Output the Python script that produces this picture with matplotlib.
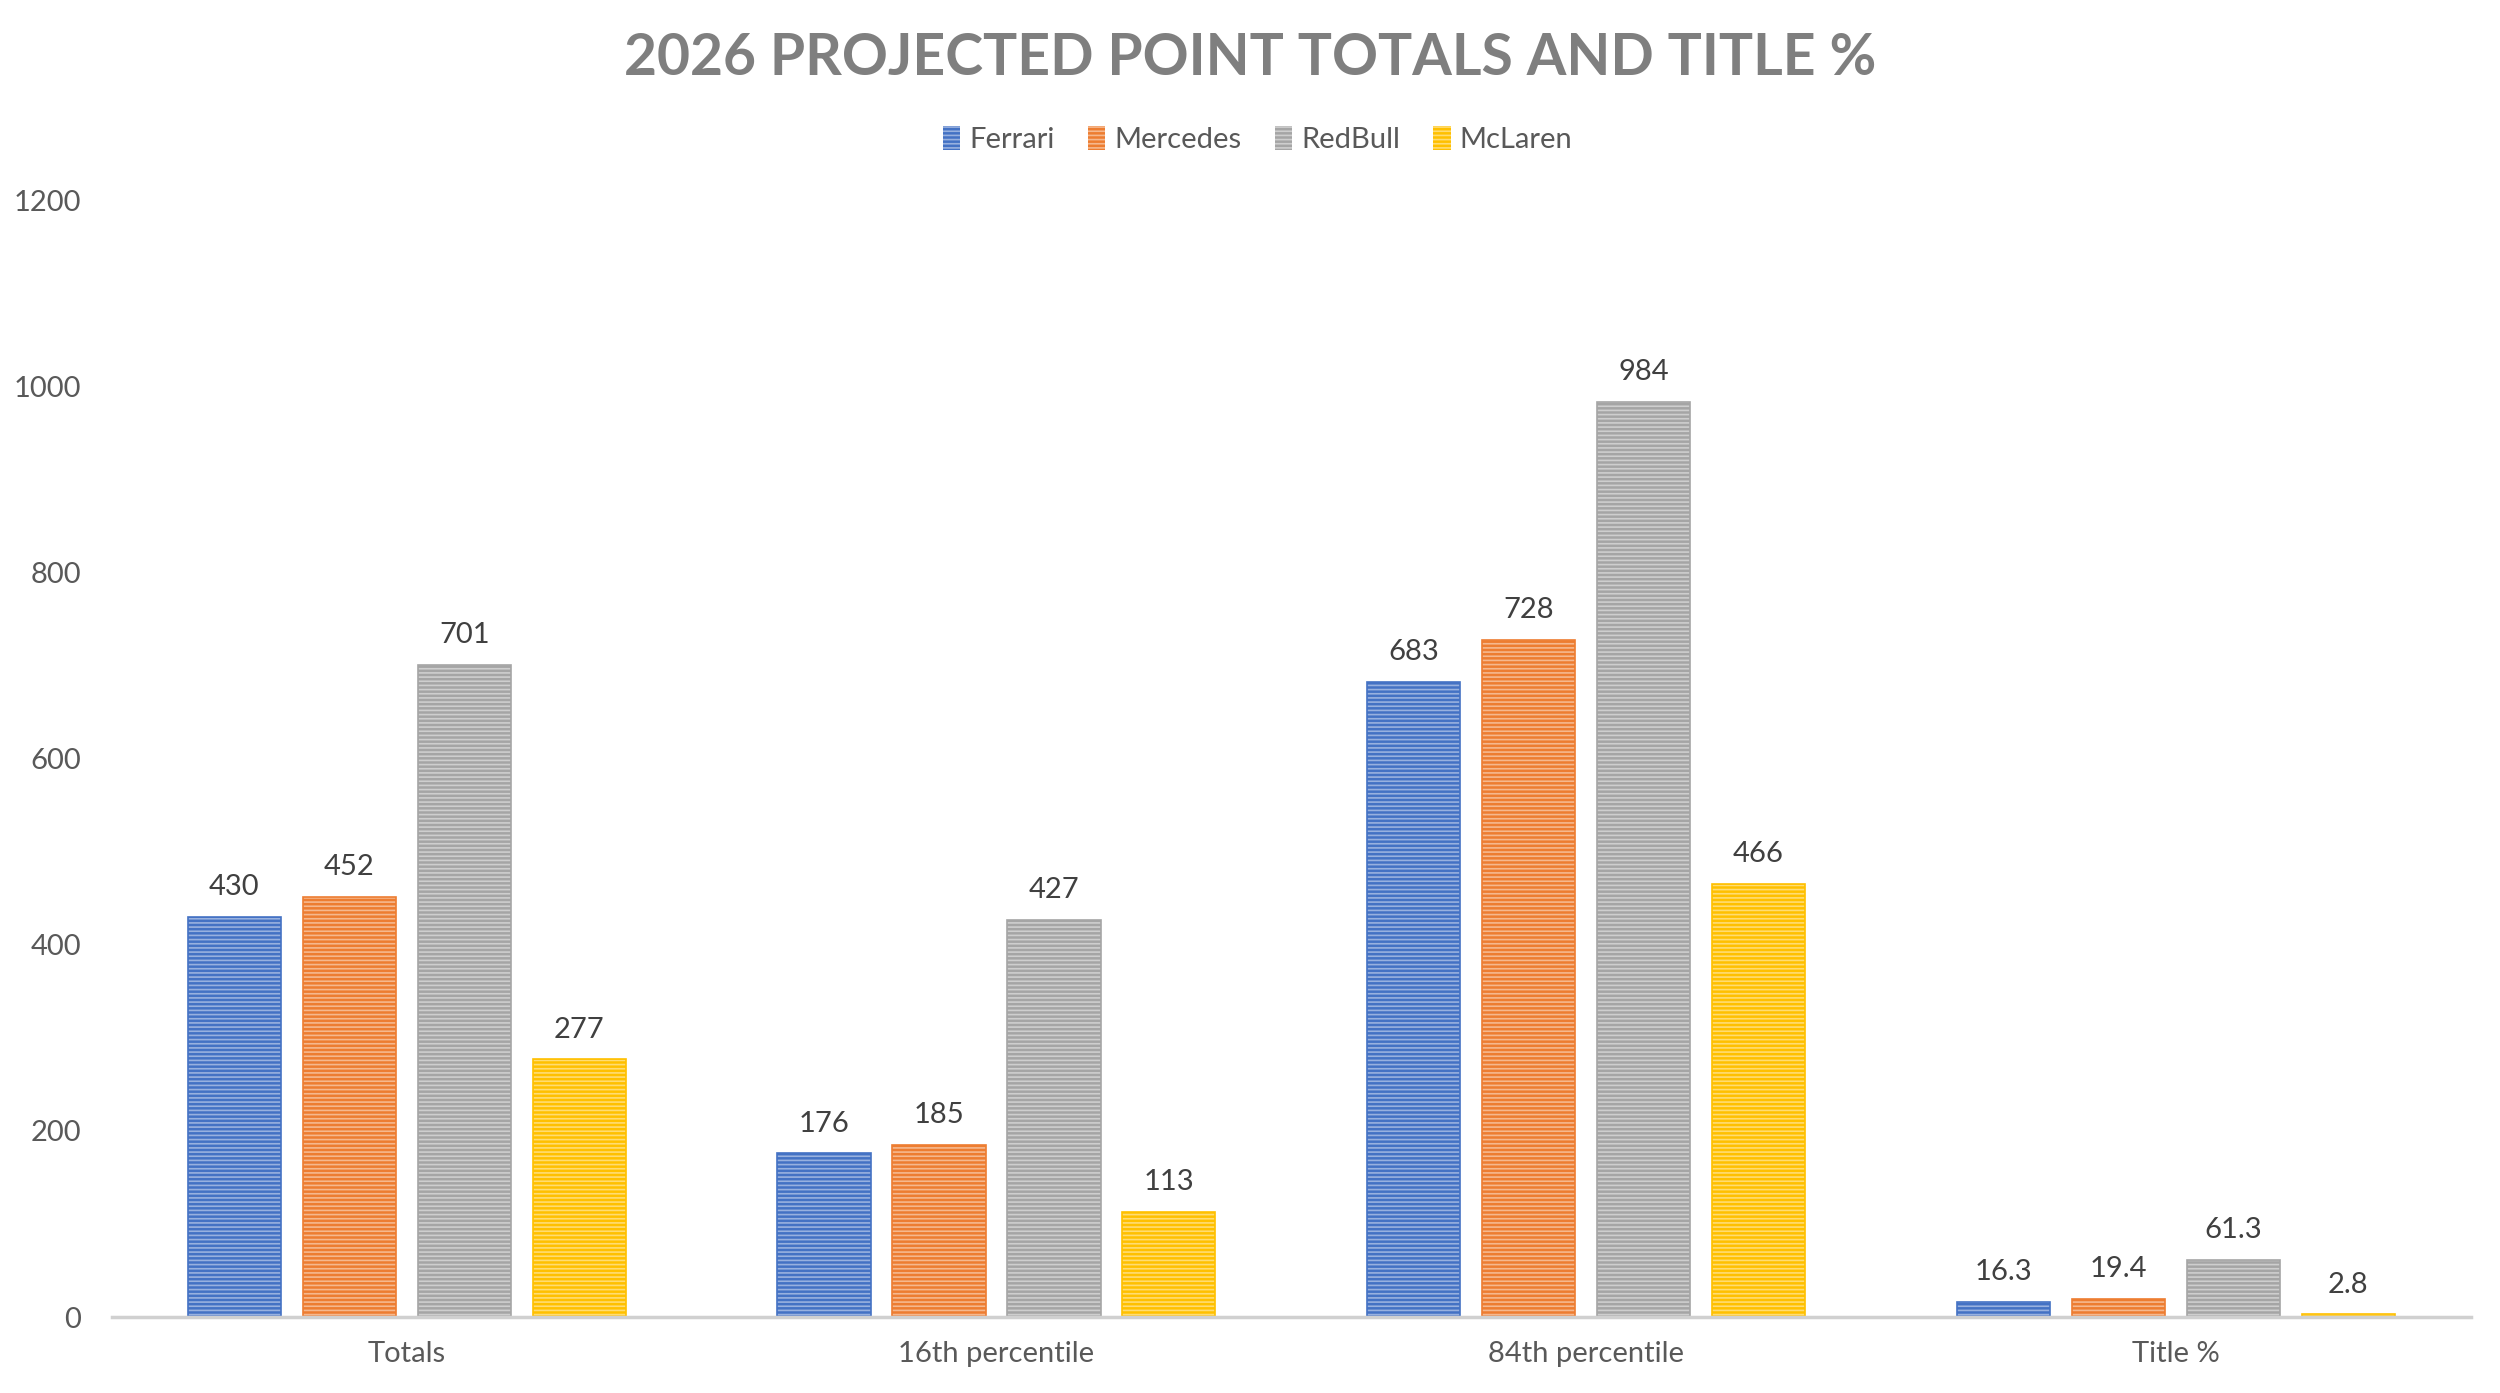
import numpy as np
import matplotlib.pyplot as plt
from matplotlib.colors import to_rgb

plt.rcParams['font.family'] = ['Lato', 'DejaVu Sans']
plt.rcParams['hatch.linewidth'] = 1.2

categories = ["Totals", "16th percentile", "84th percentile", "Title %"]
teams = ["Ferrari", "Mercedes", "RedBull", "McLaren"]
ferrari = [430, 176, 683, 16.3]
mercedes = [452, 185, 728, 19.4]
redbull = [701, 427, 984, 61.3]
mclaren = [277, 113, 466, 2.8]
colors = ["#4472C4", "#ED7D31", "#A5A5A5", "#FFC000"]
yticks = [0, 200, 400, 600, 800, 1000, 1200]

series = [ferrari, mercedes, redbull, mclaren]


def lighten(c, amt):
	r, g, b = to_rgb(c)
	return (r + (1 - r) * amt, g + (1 - g) * amt, b + (1 - b) * amt)


fig = plt.figure(figsize=(25, 13.93), dpi=100)
ax = fig.add_axes([0.0448, 0.0545, 0.9434, 0.8015])

x = np.arange(len(categories))
step = 0.195
width = 0.158
for i, (name, vals, col) in enumerate(zip(teams, series, colors)):
	pos = x + (i - 1.5) * step
	ax.bar(pos, vals, width, color=col, edgecolor=lighten(col, 0.45),
		hatch='----', linewidth=0, label=name)
	ax.bar(pos, vals, width, facecolor='none', edgecolor=col, linewidth=1.2)
	for px, v in zip(pos, vals):
		ax.annotate(f"{v:g}", (px, v), xytext=(0, 12), textcoords='offset points',
			ha='center', va='bottom', fontsize=21, color='#404040')

ax.set_xlim(-0.5, 3.5)
ax.set_ylim(0, 1200)
ax.set_yticks(yticks)
ax.set_xticks(x)
ax.set_xticklabels(categories)
ax.tick_params(axis='both', length=0, labelsize=21, colors='#595959')
ax.tick_params(axis='y', pad=22)
ax.tick_params(axis='x', pad=17)
for s in ['left', 'right', 'top']:
	ax.spines[s].set_visible(False)
ax.spines['bottom'].set_color('#D0D0D0')
ax.spines['bottom'].set_linewidth(2.5)

handles, labels = ax.get_legend_handles_labels()
fig.legend(handles, labels, loc='center', bbox_to_anchor=(0.503, 0.9), ncol=4,
	frameon=False, fontsize=21, handlelength=0.6, handleheight=0.9,
	handletextpad=0.3, columnspacing=1.15, labelcolor='#595959')

fig.text(0.5, 0.958, "2026 PROJECTED POINT TOTALS AND TITLE %", ha='center',
	va='center', fontsize=41, fontweight='bold', color='#7F7F7F')

fig.savefig("out.png", dpi=100)
